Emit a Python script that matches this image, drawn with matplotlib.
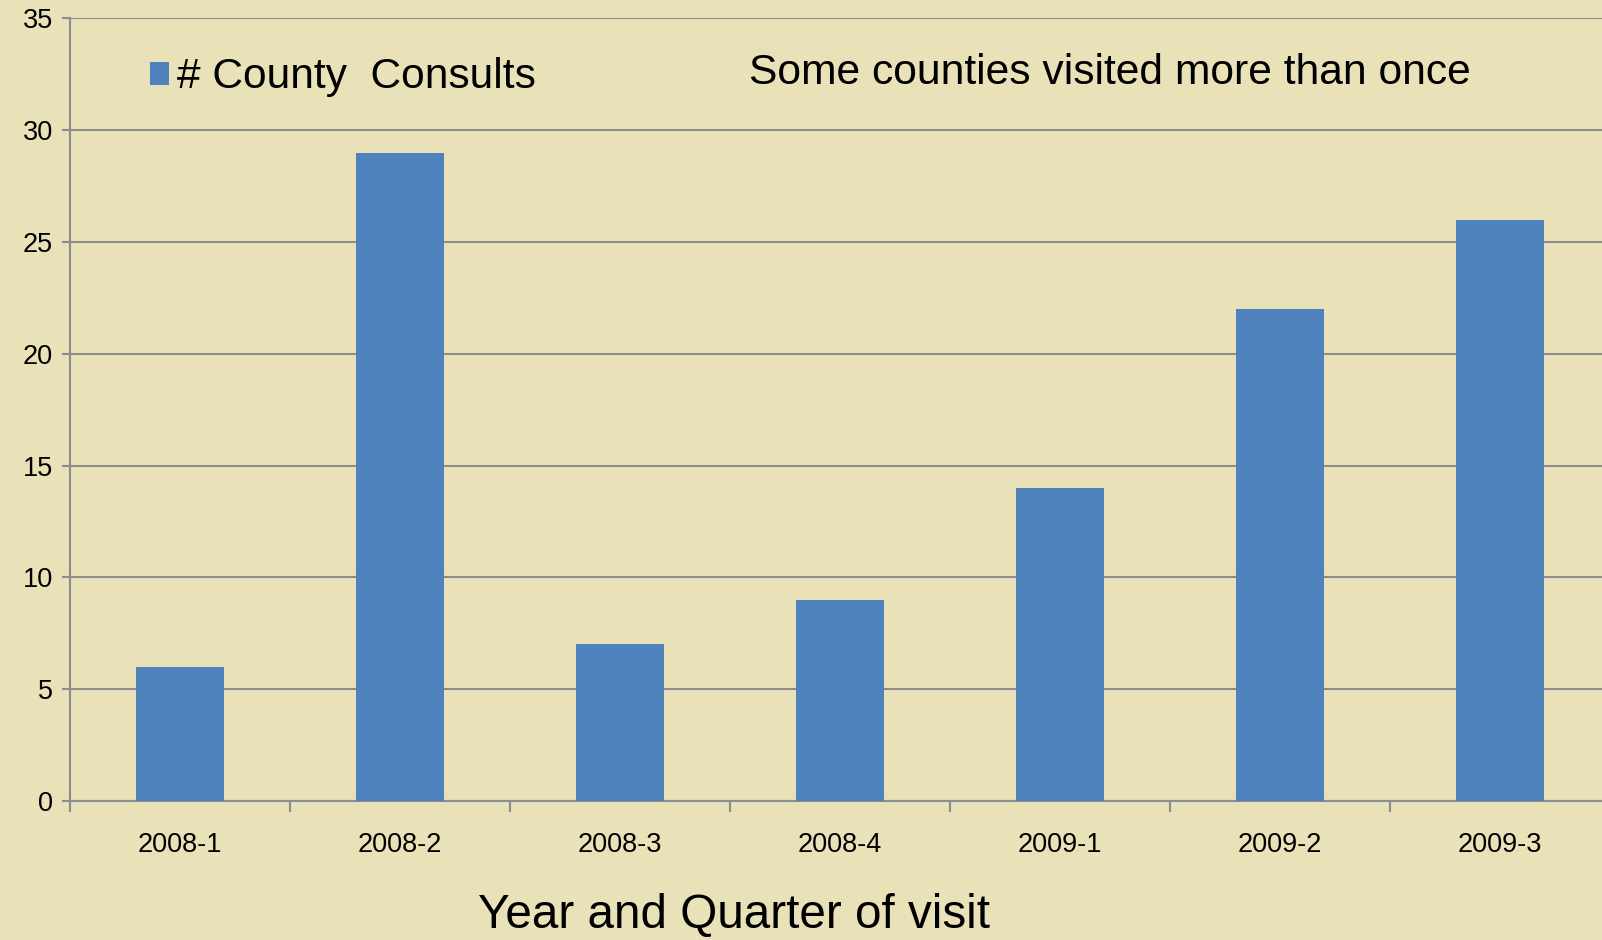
import matplotlib
matplotlib.use("Agg")
import matplotlib.pyplot as plt
import numpy as np

categories = ["2008-1", "2008-2", "2008-3", "2008-4", "2009-1", "2009-2", "2009-3"]
consults = [6, 29, 7, 9, 14, 22, 26]
yticks = [0, 5, 10, 15, 20, 25, 30, 35]

bg = "#E9E2B8"
bar_color = "#4F81BD"
grid_color = "#8C8C8C"

plt.rcParams["font.family"] = ["Liberation Sans", "DejaVu Sans"]

W, H = 1602, 940
fig = plt.figure(figsize=(W / 100, H / 100), dpi=100, facecolor=bg)
ax = fig.add_axes([69.5 / W, 139 / H, (1610 - 69.5) / W, (801 - 18.4) / H])
ax.set_facecolor(bg)

x = np.arange(len(categories))
ax.bar(x, consults, width=0.4, color=bar_color, label="# County  Consults", zorder=3)

ax.set_xlim(-0.5, len(categories) - 0.5)
ax.set_ylim(0, 35)
ax.set_yticks(yticks)
ax.yaxis.grid(True, color=grid_color, linewidth=1.5, zorder=0)
ax.set_axisbelow(True)

for s in ["top", "right"]:
    ax.spines[s].set_visible(False)
for s in ["left", "bottom"]:
    ax.spines[s].set_color(grid_color)
    ax.spines[s].set_linewidth(1.5)

ax.set_xticks(x)
ax.set_xticklabels(categories, fontsize=19.5)
ax.set_xticks(np.arange(-0.5, len(categories) + 0.5, 1), minor=True)
ax.tick_params(axis="x", which="major", length=0, pad=22)
ax.tick_params(axis="x", which="minor", length=8, width=1.5, color=grid_color, direction="out")
ax.tick_params(axis="y", length=6, width=1.5, color=grid_color, labelsize=19.5, pad=6)

leg = ax.legend(loc="upper left", bbox_to_anchor=(0.041, 0.972), frameon=False,
                fontsize=30.6, handlelength=0.45, handleheight=0.45, handletextpad=0.2,
                borderaxespad=0)

fig.text(749 / W, 1 - 73 / H, "Some counties visited more than once",
         fontsize=30.7, ha="left", va="center")
fig.text(734 / W, 2 / H, "Year and Quarter of visit",
         fontsize=34.3, ha="center", va="bottom")

fig.savefig("out.png", dpi=100, facecolor=bg)
